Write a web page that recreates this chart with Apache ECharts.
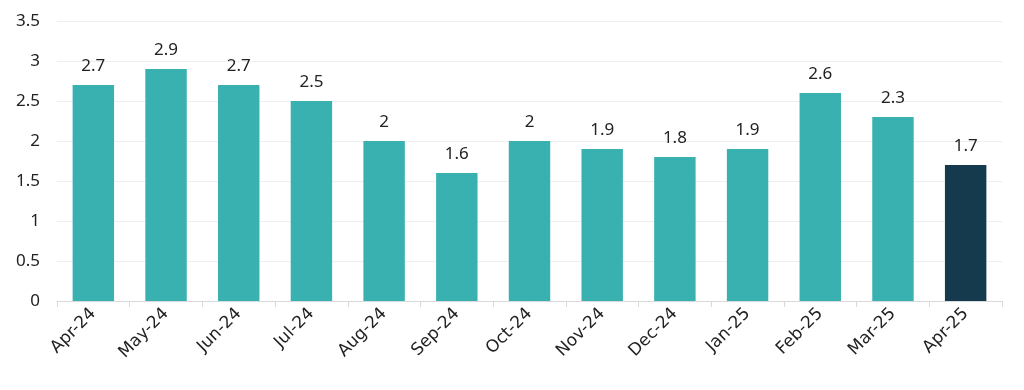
<!DOCTYPE html>
<html><head><meta charset="utf-8">
<script src="https://cdn.jsdelivr.net/npm/echarts@6/dist/echarts.min.js"></script>
<style>html,body{margin:0;padding:0;background:#fff}#c{width:1024px;height:390px}</style>
</head><body><div id="c"></div>
<script>
const categories = ['Apr-24','May-24','Jun-24','Jul-24','Aug-24','Sep-24','Oct-24','Nov-24','Dec-24','Jan-25','Feb-25','Mar-25','Apr-25'];
const values = [2.7,2.9,2.7,2.5,2,1.6,2,1.9,1.8,1.9,2.6,2.3,1.7];
const highlightIndex = 12;
const chart = echarts.init(document.getElementById('c'));
const font = "'Noto Sans', sans-serif";
chart.setOption({
  animation:false,
  grid:{left:57,right:22,top:21,bottom:89,containLabel:false},
  xAxis:{type:'category',data:categories,
    axisLine:{lineStyle:{color:'#d9d9d9'}},
    axisTick:{show:true,lineStyle:{color:'#d9d9d9'},length:6},
    axisLabel:{rotate:45,color:'#222',fontSize:17,fontFamily:"'DejaVu Sans', sans-serif",margin:10}},
  yAxis:{type:'value',min:0,max:3.5,interval:0.5,
    axisLine:{show:false},axisTick:{show:false},
    splitLine:{lineStyle:{color:'#efefef'}},
    axisLabel:{color:'#222',fontSize:17,fontFamily:font,margin:17}},
  series:[{type:'bar',barWidth:'57%',
    data:values.map((v,i)=>({value:v,itemStyle:{color:i===highlightIndex?'#15394d':'#3ab1b1'}})),
    label:{show:true,position:'top',distance:10,color:'#222',fontSize:17,fontFamily:font}}]
});
</script></body></html>
